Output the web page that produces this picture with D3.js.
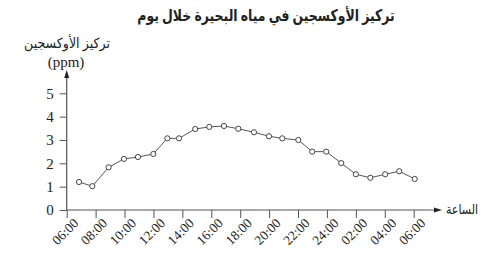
<!DOCTYPE html>
<html>
<head>
<meta charset="utf-8">
<title>Oxygen</title>
<style>
  body { margin: 0; background: #fff; }
  svg text { font-family: "Liberation Serif", "DejaVu Sans", serif; fill: #222; }
</style>
</head>
<body>
<div id="chart"></div>
<script src="https://cdn.jsdelivr.net/npm/d3@7"></script>
<script>
(function () {
  "use strict";

  // hours after 06:00 and oxygen concentration (ppm)
  var hours = [0.85, 1.77, 2.9, 3.96, 4.93, 5.99, 6.96, 7.77, 8.89, 9.86, 10.88, 11.87,
               12.95, 13.99, 14.91, 16.02, 16.98, 17.95, 18.99, 20, 21, 22.03, 23, 24.07];
  var oxygen = [1.2, 1.02, 1.83, 2.19, 2.27, 2.4, 3.07, 3.07, 3.47, 3.56, 3.6, 3.48,
                3.33, 3.16, 3.07, 3.0, 2.5, 2.5, 2.01, 1.53, 1.38, 1.53, 1.66, 1.33];
  var tickHours = [0, 2, 4, 6, 8, 10, 12, 14, 16, 18, 20, 22, 24];
  var tickLabels = ["06:00", "08:00", "10:00", "12:00", "14:00", "16:00", "18:00",
                    "20:00", "22:00", "24:00", "02:00", "04:00", "06:00"];
  var yTicks = [0, 1, 2, 3, 4, 5];

  var title = "تركيز الأوكسجين في مياه البحيرة خلال يوم";
  var yTitle = "تركيز الأوكسجين";
  var yUnit = "(ppm)";
  var xTitle = "الساعة";

  var width = 500, height = 257;
  var axisColor = "#555";

  var x = d3.scaleLinear().domain([0, 24]).range([66.7, 413.7]);
  var y = d3.scaleLinear().domain([0, 5]).range([210, 93.3]);

  var svg = d3.select("#chart").append("svg")
    .attr("width", width)
    .attr("height", height);

  // title (narrowed, the reference font is more compact than DejaVu)
  svg.append("text")
    .attr("transform", "translate(266,21) scale(0.78,1)")
    .attr("text-anchor", "middle")
    .style("font-size", "16px")
    .style("font-weight", "bold")
    .text(title);

  // y axis
  var yAxis = svg.append("g")
    .attr("transform", "translate(" + x(0) + ",0)")
    .call(d3.axisLeft(y).tickValues(yTicks).tickSize(7).tickPadding(6).tickFormat(d3.format("d")));
  yAxis.select(".domain").remove();
  yAxis.selectAll("line").attr("stroke", axisColor);
  yAxis.selectAll("text")
    .style("font-size", "15px")
    .style("font-family", "'Liberation Serif', serif");

  // x axis
  var xAxis = svg.append("g")
    .attr("transform", "translate(0," + y(0) + ")")
    .call(d3.axisBottom(x).tickValues(tickHours).tickSize(8)
      .tickFormat(function (d, i) { return tickLabels[i]; }));
  xAxis.select(".domain").remove();
  xAxis.selectAll("line").attr("stroke", axisColor);
  xAxis.selectAll("text")
    .attr("text-anchor", "end")
    .attr("dy", null)
    .attr("y", null)
    .attr("transform", "translate(12,14) rotate(-45)")
    .style("font-size", "13.5px")
    .style("font-family", "'Liberation Serif', serif");

  // axis lines with arrows
  svg.append("line")
    .attr("x1", x(0)).attr("y1", y(0))
    .attr("x2", x(0)).attr("y2", 76)
    .attr("stroke", axisColor).attr("stroke-width", 1.2);
  svg.append("path")
    .attr("d", "M" + x(0) + ",70 L" + (x(0) - 2.5) + ",78 L" + (x(0) + 2.5) + ",78 Z")
    .attr("fill", "#222");

  svg.append("line")
    .attr("x1", x(0)).attr("y1", y(0))
    .attr("x2", 436).attr("y2", y(0))
    .attr("stroke", axisColor).attr("stroke-width", 1.2);
  svg.append("path")
    .attr("d", "M442," + y(0) + " L434," + (y(0) - 2.5) + " L434," + (y(0) + 2.5) + " Z")
    .attr("fill", "#222");

  // axis titles
  svg.append("text")
    .attr("transform", "translate(67,48) scale(0.9,1)")
    .attr("text-anchor", "middle")
    .style("font-size", "14px")
    .text(yTitle);
  svg.append("text")
    .attr("x", 66).attr("y", 67)
    .attr("text-anchor", "middle")
    .style("font-size", "15px")
    .style("font-family", "'Liberation Serif', serif")
    .text(yUnit);
  svg.append("text")
    .attr("transform", "translate(462,214) scale(0.85,1)")
    .attr("text-anchor", "middle")
    .style("font-size", "13px")
    .text(xTitle);

  // line and points
  var pts = hours.map(function (h, i) { return [h, oxygen[i]]; });
  var line = d3.line()
    .x(function (d) { return x(d[0]); })
    .y(function (d) { return y(d[1]); });

  svg.append("path")
    .datum(pts)
    .attr("d", line)
    .attr("fill", "none")
    .attr("stroke", "#555")
    .attr("stroke-width", 1);

  svg.selectAll("circle")
    .data(pts)
    .enter().append("circle")
    .attr("cx", function (d) { return x(d[0]); })
    .attr("cy", function (d) { return y(d[1]); })
    .attr("r", 2.6)
    .attr("fill", "#fff")
    .attr("stroke", "#444")
    .attr("stroke-width", 1);
})();
</script>
</body>
</html>
